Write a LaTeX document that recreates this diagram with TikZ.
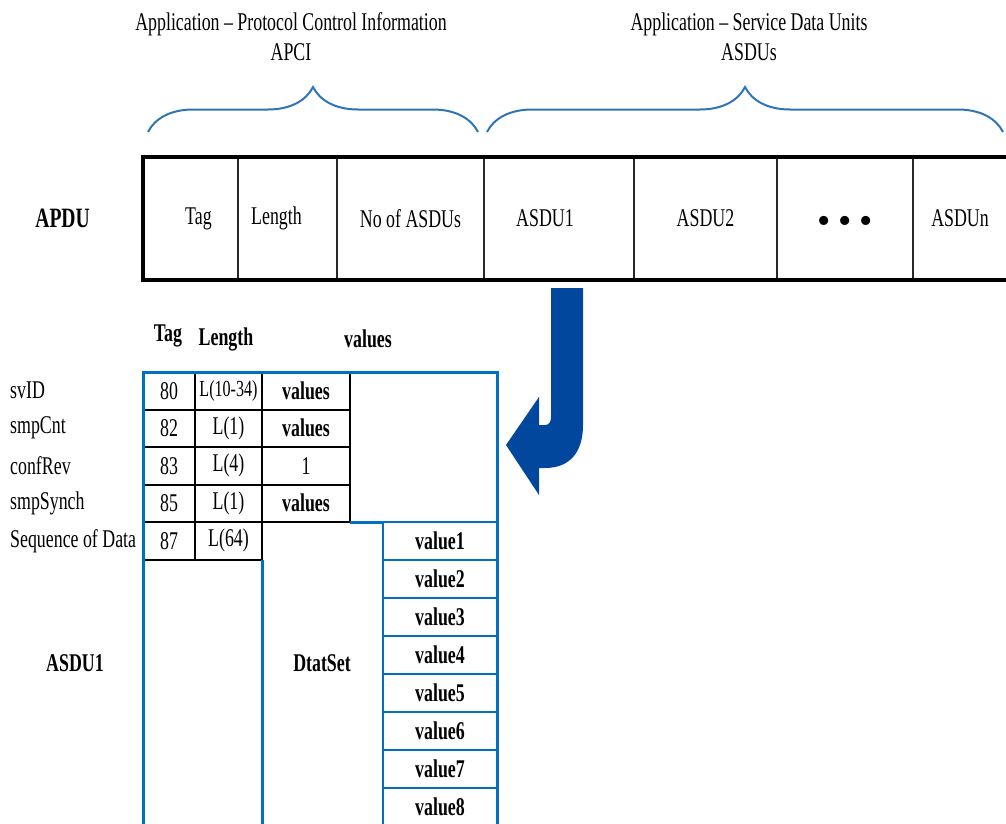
\documentclass[tikz,border=0pt]{standalone}
\usepackage{fontspec}
\setmainfont{Liberation Serif}[FakeStretch=0.7]
\newfontfamily\dotfont{Liberation Serif}
\usetikzlibrary{
    positioning,
    decorations.pathreplacing,
}
\definecolor{braceblue}{RGB}{46,117,182}
\definecolor{frameblue}{RGB}{0,112,192}
\definecolor{arrowblue}{RGB}{0,71,157}
\definecolor{cellgrey}{RGB}{40,40,40}
\newcommand{\figfont}{\fontsize{25.5}{30}\selectfont}
\newcommand{\apdufont}{\fontsize{28}{32}\selectfont}
\tikzset{
    caption/.style={inner sep=0pt, font=\figfont, align=center},
    barcell/.style={rectangle, draw=cellgrey, line width=1.5pt, minimum height=123pt, inner sep=0pt, outer sep=0pt, font=\figfont},
    barframe/.style={draw=black, line width=4pt},
    curly/.style={decorate, decoration={brace, amplitude=45pt}, draw=braceblue, line width=2pt},
    tcell/.style={rectangle, draw=black, line width=2pt, minimum height=37.5pt, inner sep=0pt, outer sep=0pt, font=\figfont},
    vcell/.style={rectangle, draw=frameblue, line width=2.5pt, minimum width=114pt, minimum height=38pt, inner sep=0pt, outer sep=0pt, font=\figfont\bfseries},
    rowlabel/.style={anchor=west, inner sep=0pt, font=\figfont},
    header/.style={inner sep=0pt, font=\figfont\bfseries},
    frameline/.style={draw=frameblue, line width=3pt},
}

\begin{document}
\begin{tikzpicture}[x=1pt, y=-1pt]
    \useasboundingbox (0,0) rectangle (1006,823);
    \clip (0,0) rectangle (1006,823);

    % ===== CAPTIONS AND BRACES =====
    \node[caption] (apci) at (291,37) {Application – Protocol Control Information\\APCI};
    \node[caption] (asdus) at (749,37) {Application – Service Data Units\\ASDUs};

    \coordinate (apci_l) at (148,132);
    \coordinate (apci_r) at (478,132);
    \coordinate (asdus_l) at (487,132);
    \coordinate (asdus_r) at (1003,132);

    % ===== APDU BAR =====
    \node[barcell, minimum width=95pt, anchor=north west] (btag) at (143,157) {\hspace*{16pt}Tag};
    \node[barcell, minimum width=99pt, right=0pt of btag] (blength) {Length\hspace*{22pt}};
    \node[barcell, minimum width=147pt, right=0pt of blength] (bnum) {No of ASDUs};
    \node[barcell, minimum width=150pt, right=0pt of bnum] (basdu1) {ASDU1\hspace*{28pt}};
    \node[barcell, minimum width=143pt, right=0pt of basdu1] (basdu2) {ASDU2};
    \node[barcell, minimum width=136pt, right=0pt of basdu2] (bdots) {\smash{\raisebox{-15pt}{\dotfont\fontsize{38}{40}\selectfont\textbullet\hspace{8pt}\textbullet\hspace{8pt}\textbullet}}};
    \node[barcell, minimum width=94pt, right=0pt of bdots] (basdun) {ASDUn};

    \node[caption, font=\apdufont\bfseries, left=53pt of btag] (apdu) {APDU};

    % ===== ASDU1 TABLE =====
    \node[header] (htag) at (168,336) {Tag};
    \node[header] (hlength) at (226,339) {Length};
    \node[header] (hvalues) at (368,339) {values};

    \node[tcell, minimum width=52pt, anchor=north west] (tag1) at (143,372) {80};
    \node[tcell, minimum width=67pt, right=0pt of tag1, font=\fontsize{23}{28}\selectfont] (len1) {L(10-34)};
    \node[tcell, minimum width=88pt, right=0pt of len1] (val1) {\textbf{values}};

    \node[tcell, minimum width=52pt, below=0pt of tag1] (tag2) {82};
    \node[tcell, minimum width=67pt, right=0pt of tag2] (len2) {L(1)};
    \node[tcell, minimum width=88pt, right=0pt of len2] (val2) {\textbf{values}};

    \node[tcell, minimum width=52pt, below=0pt of tag2] (tag3) {83};
    \node[tcell, minimum width=67pt, right=0pt of tag3] (len3) {L(4)};
    \node[tcell, minimum width=88pt, right=0pt of len3] (val3) {1};

    \node[tcell, minimum width=52pt, below=0pt of tag3] (tag4) {85};
    \node[tcell, minimum width=67pt, right=0pt of tag4] (len4) {L(1)};
    \node[tcell, minimum width=88pt, right=0pt of len4] (val4) {\textbf{values}};

    \node[tcell, minimum width=52pt, below=0pt of tag4] (tag5) {87};
    \node[tcell, minimum width=67pt, right=0pt of tag5] (len5) {L(64)};

    \coordinate (lblx) at (10,0);
    \node[rowlabel] (lsvid) at (tag1 -| lblx) {svID};
    \node[rowlabel] (lsmpcnt) at (tag2 -| lblx) {smpCnt};
    \node[rowlabel] (lconfrev) at (tag3 -| lblx) {confRev};
    \node[rowlabel] (lsmpsynch) at (tag4 -| lblx) {smpSynch};
    \node[rowlabel] (lseq) at (tag5 -| lblx) {Sequence of Data};

    \node[vcell, anchor=north west] (v1) at (383,522) {value1};
    \node[vcell, below=0pt of v1] (v2) {value2};
    \node[vcell, below=0pt of v2] (v3) {value3};
    \node[vcell, below=0pt of v3] (v4) {value4};
    \node[vcell, below=0pt of v4] (v5) {value5};
    \node[vcell, below=0pt of v5] (v6) {value6};
    \node[vcell, below=0pt of v6] (v7) {value7};
    \node[vcell, below=0pt of v7] (v8) {value8};

    \node[header] (asdu1) at (75,663) {ASDU1};
    \node[header] (dtatset) at (322,663) {DtatSet};

    \coordinate (bottom) at (0,840);

    % ===== ARROW =====
    \fill[arrowblue] (551,288) -- (583,288) -- (583,425)
        .. controls (583,452) and (570,468) .. (545,468) -- (539,468) -- (539,495)
        -- (506,445) -- (539,397) -- (539,425) -- (545,425)
        .. controls (549,425) and (551,422) .. (551,417) -- cycle;

    % ===== DRAW ALL LINES =====
    \draw[curly] (apci_l) -- (apci_r);
    \draw[curly] (asdus_l) -- (asdus_r);

    \draw[barframe] (basdun.north east) -- (btag.north west) -- (btag.south west) -- (basdun.south east);

    \draw[frameline] (val4.south east) -- (v1.north west);
    \draw[frameline] (len5.south east) -- (len5.south east |- bottom);
    \draw[frameline] (v1.north east |- bottom) -- (v1.north east |- tag1.north)
        -- (tag1.north west) -- (tag1.north west |- bottom);

\end{tikzpicture}
\end{document}
